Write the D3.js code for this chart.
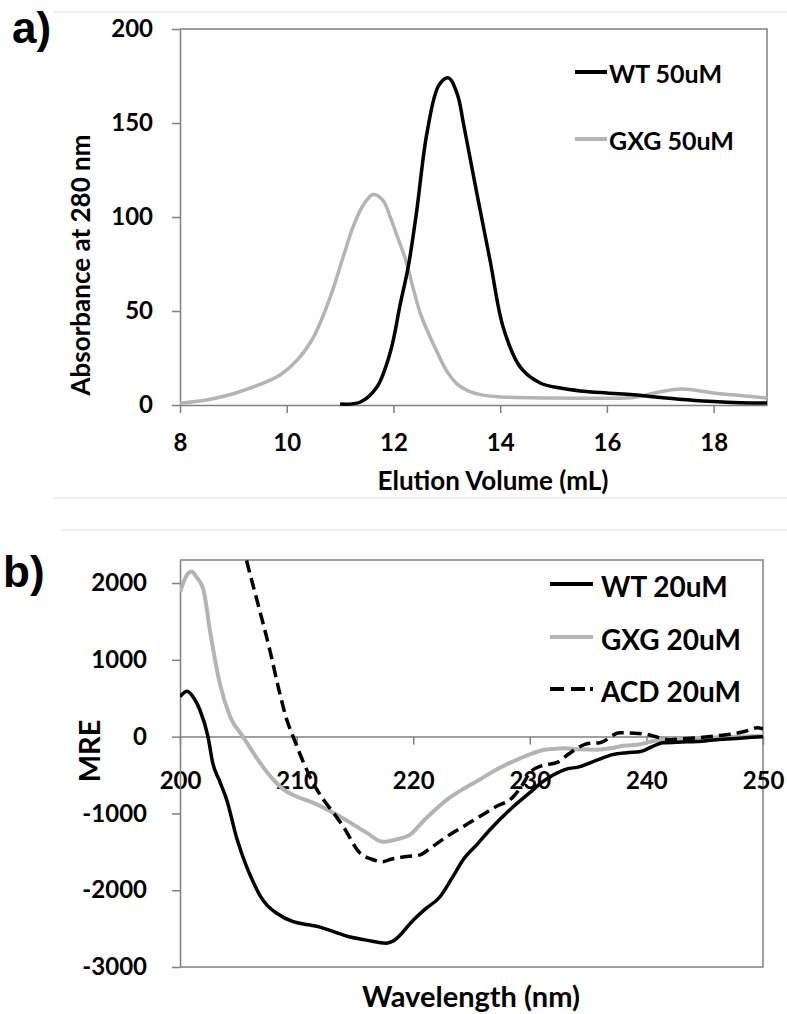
<!DOCTYPE html>
<html>
<head>
<meta charset="utf-8">
<script src="https://cdn.jsdelivr.net/npm/d3@7"></script>
<style>
  body { margin: 0; background: #fff; }
  svg text { font-family: Lato, "Open Sans", sans-serif; font-weight: bold; fill: #000; }
  .axisStyle path, .axisStyle line { stroke: #808080; stroke-width: 1.5; }
</style>
</head>
<body>
<svg id="fig" width="787" height="1014"></svg>
<script>
// panel a - elution volume (mL) vs absorbance at 280 nm
const wt50 = [[11.0,0.5],[11.38,1.6],[11.69,9.6],[11.94,28],[12.13,54],[12.28,74],[12.43,102],
  [12.63,145],[12.85,170],[13.03,174],[13.2,165],[13.31,150],[13.56,113],[13.81,77],[14.06,41],
  [14.38,20],[14.75,11.7],[15.13,9],[15.5,7.5],[16.0,6.4],[16.5,5.5],[17.0,4],[17.5,2.8],
  [18.0,1.8],[18.5,1.2],[19.0,1]];
const gxg50 = [[8.0,1],[8.5,2.7],[9.0,6],[9.5,11],[9.875,16],[10.2,24],[10.5,36],[10.81,57],
  [11.06,79],[11.22,93],[11.32,100],[11.45,107],[11.62,112],[11.8,109],[11.94,100],[12.03,93],
  [12.22,78],[12.28,72],[12.5,49],[12.69,36],[12.82,28],[13.0,18],[13.2,11],[13.4,7.5],[13.63,5.5],
  [14.0,4.3],[15.0,3.7],[16.0,3.6],[16.5,4],[17.0,7],[17.4,8.5],[18.0,6.4],[18.5,5],[19.0,3.7]];
const elutionTicks = [8, 10, 12, 14, 16, 18];
const absTicks = [0, 50, 100, 150, 200];

// panel b - wavelength (nm) vs MRE
const wt20 = [[200,520],[200.6,590],[201.2,500],[201.7,350],[202.4,0],[202.8,-340],[203.4,-580],[204,-820],
  [204.9,-1340],[205.7,-1690],[206.3,-1900],[206.9,-2080],[207.5,-2200],[208.3,-2300],[209.7,-2410],
  [211,-2450],[212,-2480],[213,-2530],[214.6,-2610],[216,-2650],[217.7,-2690],[218.3,-2660],[220,-2390],
  [221,-2250],[222.3,-2085],[223.3,-1850],[224.3,-1600],[225.5,-1400],[226.6,-1210],[228.6,-910],
  [230,-730],[231,-600],[232,-500],[233,-430],[234.3,-390],[235.7,-310],[237.1,-235],[238.3,-210],
  [239.5,-195],[240.5,-130],[241.4,-80],[243,-70],[244.3,-65],[246,-40],[248,-20],[250,0]];
const gxg20 = [[200,1880],[200.5,2080],[201,2150],[201.4,2080],[202,1920],[202.6,1350],[203.4,700],
  [204.3,260],[205.4,0],[205.9,-120],[206.5,-260],[207.1,-390],[208,-560],[208.9,-690],[210,-780],
  [211.4,-860],[213,-980],[214.6,-1120],[216,-1250],[217.4,-1370],[218.5,-1340],[219.7,-1280],
  [221,-1080],[222.9,-820],[224.3,-680],[225.7,-560],[227,-440],[228.6,-320],[230,-230],[231,-180],
  [232,-160],[233,-150],[234,-165],[235.8,-170],[237,-150],[238,-120],[239.5,-100],[240.5,-60],
  [241.4,-40],[243,-25],[245,-15],[247,-5],[250,10]];
const acd20 = [[205.0,2750],[205.7,2300],[206.7,1720],[207.7,1130],[208.5,600],[209.2,200],[209.7,0],
  [210.6,-340],[211.4,-600],[212.3,-820],[213.2,-1000],[214,-1170],[215.4,-1510],[216.5,-1600],
  [217.4,-1630],[218,-1600],[219,-1570],[220.6,-1540],[221.5,-1450],[222.9,-1300],[224.3,-1170],
  [225.7,-1040],[227,-920],[228.6,-780],[229.4,-620],[230,-470],[231,-380],[232.3,-340],[233.3,-230],
  [234.3,-130],[235,-90],[236,-80],[237.7,50],[239,45],[240,30],[241,-10],[242,-40],[243,-30],
  [244.3,-15],[246,10],[247.2,30],[248.5,70],[249.5,115],[250,100]];
const waveTicks = [200, 210, 220, 230, 240, 250];
const mreTicks = [-3000, -2000, -1000, 0, 1000, 2000];

let svg = d3.select('#fig');
let plainNum = function(d){ return String(d); };

// faint separator lines from the page
[[12, 53], [498, 53], [530, 61]].forEach(function(s){
    svg.append('line')
        .attr('x1', s[1]).attr('x2', 787)
        .attr('y1', s[0]).attr('y2', s[0])
        .attr('stroke', '#ebebeb').attr('stroke-width', 1.5);
});

// ---------- panel a ----------
let xA = d3.scaleLinear().domain([8, 19]).range([180, 767]);
let yA = d3.scaleLinear().domain([0, 200]).range([405, 29]);

let gA = svg.append('g');

// frame (top + right)
gA.append('path')
    .attr('d', 'M' + xA(8) + ',' + yA(200) + 'H' + xA(19) + 'V' + yA(0))
    .attr('fill', 'none').attr('stroke', '#808080').attr('stroke-width', 1.5);

gA.append('g')
    .attr('class', 'axisStyle')
    .attr('transform', 'translate(0,' + yA(0) + ')')
    .call(d3.axisBottom(xA).tickValues(elutionTicks).tickFormat(plainNum)
        .tickSize(8).tickSizeOuter(0).tickPadding(21))
    .selectAll('text').style('font-size', '24px');
gA.append('g')
    .attr('class', 'axisStyle')
    .attr('transform', 'translate(' + xA(8) + ',0)')
    .call(d3.axisLeft(yA).tickValues(absTicks).tickFormat(plainNum)
        .tickSize(8).tickSizeOuter(0).tickPadding(19))
    .selectAll('text').style('font-size', '24px');
gA.selectAll('.axisStyle text').attr('fill', '#000');

let lineA = d3.line()
    .x(function(d){ return xA(d[0]); })
    .y(function(d){ return yA(d[1]); })
    .curve(d3.curveCatmullRom.alpha(0.5));

gA.append('path').datum(gxg50)
    .attr('d', lineA).attr('fill', 'none')
    .attr('stroke', '#b4b4b4').attr('stroke-width', 3.5);
gA.append('path').datum(wt50)
    .attr('d', lineA).attr('fill', 'none')
    .attr('stroke', '#000').attr('stroke-width', 3.5);

// axis titles
gA.append('text')
    .attr('transform', 'translate(90,265) rotate(-90)')
    .style('text-anchor', 'middle').style('font-size', '26px')
    .text('Absorbance at 280 nm');
gA.append('text')
    .attr('x', 493).attr('y', 490)
    .style('text-anchor', 'middle').style('font-size', '26px')
    .text('Elution Volume (mL)');

// legend a
let legA = [{name: 'WT 50uM', color: '#000', y: 72}, {name: 'GXG 50uM', color: '#b4b4b4', y: 139}];
legA.forEach(function(l){
    gA.append('line')
        .attr('x1', 575).attr('x2', 607).attr('y1', l.y).attr('y2', l.y)
        .attr('stroke', l.color).attr('stroke-width', 4);
    gA.append('text')
        .attr('x', 609).attr('y', l.y + 11)
        .style('font-size', '25px')
        .text(l.name);
});

gA.append('text')
    .attr('x', 12).attr('y', 43)
    .style('font-family', '"Liberation Sans", Arial, sans-serif')
    .style('font-size', '44px')
    .text('a)');

// ---------- panel b ----------
let xB = d3.scaleLinear().domain([200, 250]).range([180, 763]);
let yB = d3.scaleLinear().domain([-3000, 2300]).range([967, 560]);

let gB = svg.append('g');

svg.append('clipPath').attr('id', 'clipB')
    .append('rect')
    .attr('x', xB(200)).attr('y', yB(2300))
    .attr('width', xB(250) - xB(200)).attr('height', yB(-3000) - yB(2300));

// frame (top, right, bottom)
gB.append('path')
    .attr('d', 'M' + xB(200) + ',' + yB(2300) + 'H' + xB(250) + 'V' + yB(-3000) + 'H' + xB(200))
    .attr('fill', 'none').attr('stroke', '#808080').attr('stroke-width', 1.5);

gB.append('g')
    .attr('class', 'axisStyle')
    .attr('transform', 'translate(0,' + yB(0) + ')')
    .call(d3.axisBottom(xB).tickValues(waveTicks).tickFormat(plainNum)
        .tickSize(8).tickSizeOuter(0).tickPadding(27))
    .selectAll('text').style('font-size', '24px');
gB.append('g')
    .attr('class', 'axisStyle')
    .attr('transform', 'translate(' + xB(200) + ',0)')
    .call(d3.axisLeft(yB).tickValues(mreTicks).tickFormat(plainNum)
        .tickSize(8).tickSizeOuter(0).tickPadding(25))
    .selectAll('text').style('font-size', '24px');
gB.selectAll('.axisStyle text').attr('fill', '#000');

let lineB = d3.line()
    .x(function(d){ return xB(d[0]); })
    .y(function(d){ return yB(d[1]); })
    .curve(d3.curveMonotoneX);

let curvesB = gB.append('g').attr('clip-path', 'url(#clipB)');
curvesB.append('path').datum(gxg20)
    .attr('d', lineB).attr('fill', 'none')
    .attr('stroke', '#b4b4b4').attr('stroke-width', 4);
curvesB.append('path').datum(acd20)
    .attr('d', lineB).attr('fill', 'none')
    .attr('stroke', '#000').attr('stroke-width', 3.5)
    .attr('stroke-dasharray', '12,6');
curvesB.append('path').datum(wt20)
    .attr('d', lineB).attr('fill', 'none')
    .attr('stroke', '#000').attr('stroke-width', 3.5);

gB.append('text')
    .attr('transform', 'translate(100,751) rotate(-90)')
    .style('text-anchor', 'middle').style('font-size', '29px')
    .text('MRE');
gB.append('text')
    .attr('x', 471).attr('y', 1007)
    .style('text-anchor', 'middle').style('font-size', '29px')
    .text('Wavelength (nm)');

// legend b
let legB = [{name: 'WT 20uM', color: '#000', y: 584, dash: null},
            {name: 'GXG 20uM', color: '#b4b4b4', y: 637, dash: null},
            {name: 'ACD 20uM', color: '#000', y: 689, dash: '14,7,14,5,3'}];
legB.forEach(function(l){
    gB.append('line')
        .attr('x1', 550).attr('x2', 593).attr('y1', l.y).attr('y2', l.y)
        .attr('stroke', l.color).attr('stroke-width', 4)
        .attr('stroke-dasharray', l.dash);
    gB.append('text')
        .attr('x', 601).attr('y', l.y + 13)
        .style('font-size', '28px')
        .text(l.name);
});

gB.append('text')
    .attr('x', 3).attr('y', 587)
    .style('font-family', '"Liberation Sans", Arial, sans-serif')
    .style('font-size', '44px')
    .text('b)');
</script>
</body>
</html>
